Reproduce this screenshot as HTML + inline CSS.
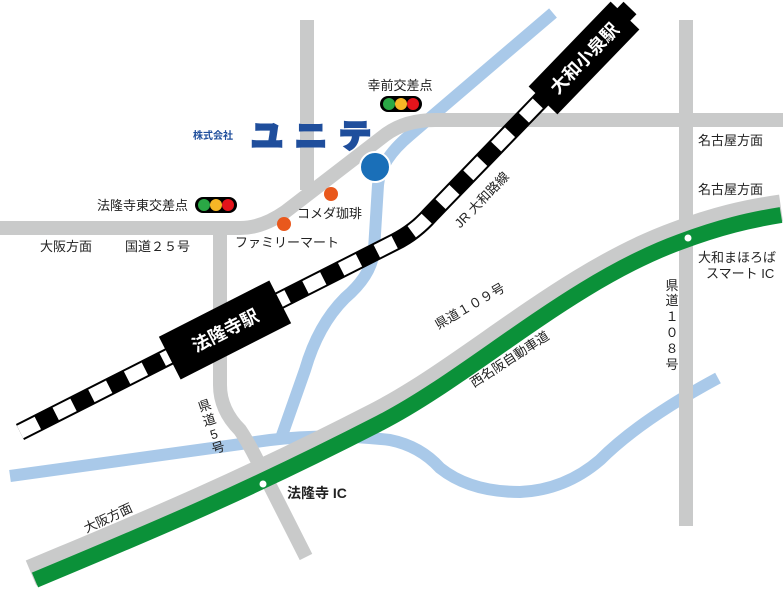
<!DOCTYPE html>
<html><head><meta charset="utf-8"><style>
html,body{margin:0;padding:0;background:#fff;}
svg{display:block;font-family:"Liberation Sans","Noto Sans CJK JP",sans-serif;}
</style></head><body>
<svg width="783" height="592" viewBox="0 0 783 592" xmlns="http://www.w3.org/2000/svg">
<!-- rivers -->
<g fill="none" stroke="#a9c9e9" stroke-width="12" stroke-linecap="butt">
<path d="M553,13 L410,135 Q380,160 378,185 L374,250 Q372,275 345,298 Q318,325 305,370 L280,441"/>
<path d="M10,476 L270,440 Q330,433 390,440 Q420,446 440,468 Q470,492 520,492 Q565,490 600,460 Q640,420 718,378"/>
</g>
<!-- gray roads -->
<g fill="none" stroke="#c9caca" stroke-width="14">
<path d="M0,228 L240,228 Q262,228 285,212 L385,135 Q405,120 435,120 L783,120"/>
<path d="M307,20 L307,190"/>
<path d="M220,228 L220,385 Q220,410 240,430 Q250,445 262,470 L306,557"/>
<path d="M686,20 L686,526"/>
</g>
<!-- expressway -->
<g transform="translate(-4,-7)">
<path d="M35,580 C130,540 230,500 380,423 C470,377 570,282 680,242 C720,227 750,220 785,215" fill="none" stroke="#c9caca" stroke-width="27"/>
</g>
<path d="M35,580 C130,540 230,500 380,423 C470,377 570,282 680,242 C720,227 750,220 781,215" fill="none" stroke="#0b9139" stroke-width="16"/>
<circle cx="263" cy="484" r="3.5" fill="#fff"/>
<circle cx="688" cy="238" r="3.5" fill="#fff"/>
<!-- railway -->
<path d="M20,432 L395,242 Q415,232 430,215 L630,8" fill="none" stroke="#000" stroke-width="18"/>
<path d="M20,432 L395,242 Q415,232 430,215 L630,8" fill="none" stroke="#fff" stroke-width="14" stroke-dasharray="20,20"/>
<g transform="translate(225,330) rotate(-27)">
<rect x="-62" y="-24" width="124" height="48" fill="#000"/>
<text x="0" y="7" fill="#fff" font-size="18" font-weight="bold" text-anchor="middle">法隆寺駅</text>
</g>
<g transform="translate(584,58) rotate(-46)">
<rect x="-59" y="-20" width="118" height="40" fill="#000"/>
<text x="0" y="7" fill="#fff" font-size="18" font-weight="bold" text-anchor="middle">大和小泉駅</text>
</g>
<!-- blue circle -->
<circle cx="375" cy="167" r="15" fill="#1a6fb8" stroke="#fff" stroke-width="2"/>
<!-- orange dots -->
<circle cx="331" cy="194" r="7" fill="#e9581c"/>
<circle cx="284" cy="224" r="7" fill="#e9581c"/>
<!-- traffic lights -->
<g transform="translate(380,96)">
<rect x="0" y="0" width="42" height="16" rx="8" fill="#000"/>
<circle cx="9" cy="8" r="6" fill="#2aa845"/><circle cx="21" cy="8" r="6" fill="#f6b626"/><circle cx="33" cy="8" r="6" fill="#e3141b"/>
</g>
<g transform="translate(195,197)">
<rect x="0" y="0" width="42" height="16" rx="8" fill="#000"/>
<circle cx="9" cy="8" r="6" fill="#2aa845"/><circle cx="21" cy="8" r="6" fill="#f6b626"/><circle cx="33" cy="8" r="6" fill="#e3141b"/>
</g>
<!-- logo -->
<text x="193" y="139" font-size="10" font-weight="bold" fill="#1f4e9c">株式会社</text>
<text x="251" y="147" font-size="32" font-weight="bold" fill="#1f4e9c" stroke="#1f4e9c" stroke-width="3" letter-spacing="12">ユニテ</text>
<!-- labels -->
<g font-size="13" fill="#222">
<text x="400" y="90" text-anchor="middle">幸前交差点</text>
<text x="188" y="210" text-anchor="end">法隆寺東交差点</text>
<text x="40" y="251">大阪方面</text>
<text x="125" y="251">国道２５号</text>
<text x="297" y="218">コメダ珈琲</text>
<text x="235" y="247">ファミリーマート</text>
<text x="698" y="145">名古屋方面</text>
<text x="698" y="194">名古屋方面</text>
<text x="698" y="262">大和まほろば</text>
<text x="706" y="278">スマート IC</text>
<text transform="translate(485,203) rotate(-46)" text-anchor="middle">JR 大和路線</text>
<text transform="translate(472,310) rotate(-30)" text-anchor="middle">県道１０９号</text>
<text transform="translate(512,363) rotate(-33)" text-anchor="middle">西名阪自動車道</text>
<text transform="translate(110,522) rotate(-25)" text-anchor="middle">大阪方面</text>
<g text-anchor="middle">
<text x="672" y="290">県</text><text x="672" y="305">道</text><text x="672" y="321">１</text><text x="672" y="337">０</text><text x="672" y="353">８</text><text x="672" y="369">号</text>
</g>
<g transform="translate(206,410) rotate(-18)" text-anchor="middle">
<text x="0" y="0">県</text><text x="0" y="15">道</text><text x="0" y="30">5</text><text x="0" y="44">号</text>
</g>
<text x="287" y="498" font-size="14" font-weight="bold">法隆寺 IC</text>
</g>
</svg>
</body></html>
